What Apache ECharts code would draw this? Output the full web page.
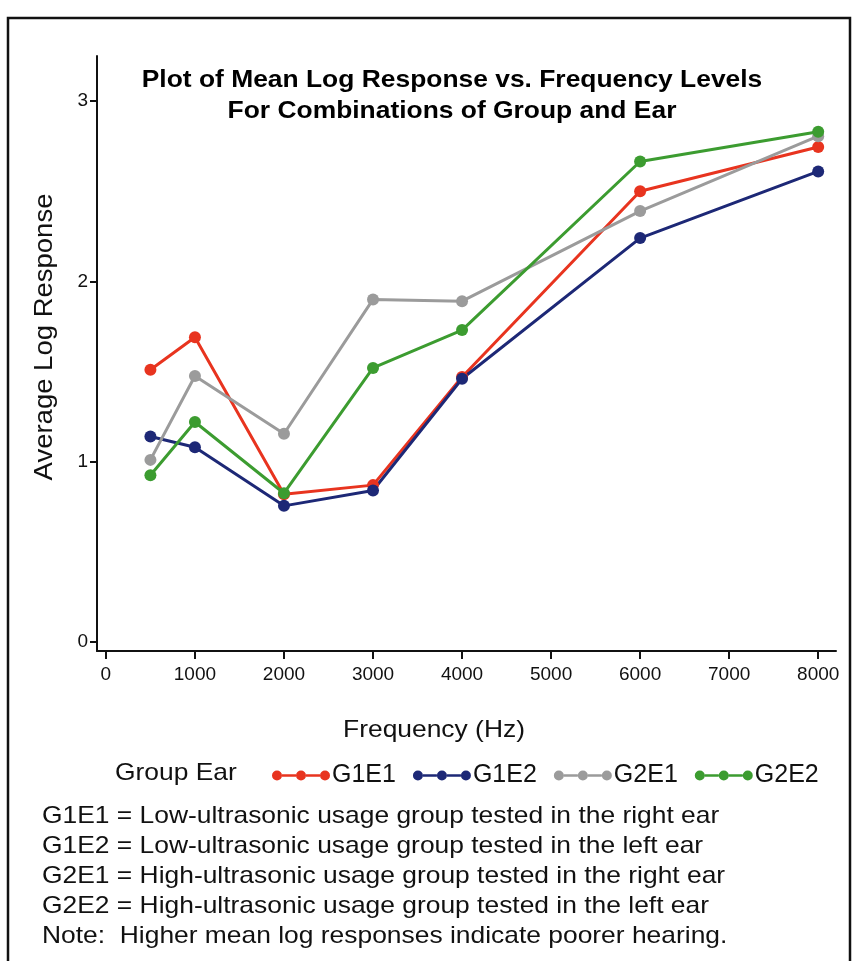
<!DOCTYPE html>
<html><head><meta charset="utf-8">
<script src="https://cdn.jsdelivr.net/npm/echarts@6/dist/echarts.min.js"></script>
<style>html,body{margin:0;padding:0;background:#fff}#c{width:855px;height:961px}</style>
</head><body><div id="c"></div>
<script>
const frequencies = [500, 1000, 2000, 3000, 4000, 6000, 8000];
const seriesNames = ['G1E1', 'G1E2', 'G2E1', 'G2E2'];
const g1e1 = [1.51, 1.69, 0.82, 0.87, 1.47, 2.50, 2.745];
const g1e2 = [1.14, 1.08, 0.755, 0.84, 1.46, 2.24, 2.61];
const g2e1 = [1.01, 1.475, 1.155, 1.90, 1.89, 2.39, 2.805];
const g2e2 = [0.925, 1.22, 0.825, 1.52, 1.73, 2.665, 2.83];
const xTicks = [0, 1000, 2000, 3000, 4000, 5000, 6000, 7000, 8000];
const yTicks = [0, 1, 2, 3];
const titleLines = ['Plot of Mean Log Response vs. Frequency Levels', 'For Combinations of Group and Ear'];
const xName = 'Frequency (Hz)';
const yName = 'Average Log Response';
const legendTitle = 'Group Ear';
const notes = [
  'G1E1 = Low-ultrasonic usage group tested in the right ear',
  'G1E2 = Low-ultrasonic usage group tested in the left ear',
  'G2E1 = High-ultrasonic usage group tested in the right ear',
  'G2E2 = High-ultrasonic usage group tested in the left ear',
  'Note:  Higher mean log responses indicate poorer hearing.'
];
const colors = ['#e8341f', '#1d2876', '#9b9b9b', '#3c9c30'];
const allData = [g1e1, g1e2, g2e1, g2e2];
const FONT = '"Liberation Sans", Arial, sans-serif';
const legendIcon = 'path://M0,5a5,5 0 1,0 10,0a5,5 0 1,0 -10,0Z M24,5a5,5 0 1,0 10,0a5,5 0 1,0 -10,0Z M48,5a5,5 0 1,0 10,0a5,5 0 1,0 -10,0Z M10,3.8h14v2.4h-14Z M34,3.8h14v2.4h-14Z';
const SX = 1.1;

const chart = echarts.init(document.getElementById('c'), null, {renderer: 'canvas'});
const graphics = [
  {type: 'rect', shape: {x: 8, y: 18, width: 842, height: 960}, style: {fill: 'none', stroke: '#111', lineWidth: 2.5}, silent: true},
  {type: 'text', x: 452, y: 80, scaleX: SX, style: {x: 0, y: 0, text: titleLines[0], font: 'bold 24px ' + FONT, fill: '#000', align: 'center', verticalAlign: 'middle'}},
  {type: 'text', x: 452, y: 111, scaleX: SX, style: {x: 0, y: 0, text: titleLines[1], font: 'bold 24px ' + FONT, fill: '#000', align: 'center', verticalAlign: 'middle'}},
  {type: 'text', x: 434, y: 730, scaleX: SX, style: {x: 0, y: 0, text: xName, font: '24px ' + FONT, fill: '#111', align: 'center', verticalAlign: 'middle'}},
  {type: 'text', x: 45, y: 337, rotation: Math.PI / 2, scaleX: SX, style: {x: 0, y: 0, text: yName, font: '25px ' + FONT, fill: '#111', align: 'center', verticalAlign: 'middle'}},
  {type: 'text', x: 115, y: 773, scaleX: SX, style: {x: 0, y: 0, text: legendTitle, font: '24px ' + FONT, fill: '#111', align: 'left', verticalAlign: 'middle'}}
].concat(notes.map((t, k) => ({type: 'text', x: 42, y: 816 + k * 30, scaleX: SX, style: {x: 0, y: 0, text: t, font: '24px ' + FONT, fill: '#111', align: 'left', verticalAlign: 'middle'}})));

const option = {
  backgroundColor: '#fff',
  animation: false,
  grid: {left: 97, right: 19, top: 56, bottom: 310, containLabel: false},
  xAxis: {
    type: 'value', min: -100, max: 8200,
    axisLine: {show: true, onZero: false, lineStyle: {color: '#111', width: 2}},
    axisTick: {show: true, customValues: xTicks, length: 8, lineStyle: {color: '#111', width: 2}},
    axisLabel: {customValues: xTicks, formatter: v => String(v), fontFamily: FONT, fontSize: 19, color: '#111', margin: 14},
    splitLine: {show: false}
  },
  yAxis: {
    type: 'value', min: -0.05, max: 3.25,
    axisLine: {show: true, onZero: false, lineStyle: {color: '#111', width: 2}},
    axisTick: {show: true, customValues: yTicks, length: 7, lineStyle: {color: '#111', width: 2}},
    axisLabel: {customValues: yTicks, fontFamily: FONT, fontSize: 19, color: '#111', margin: 9},
    splitLine: {show: false}
  },
  legend: {
    data: seriesNames.map((n, i) => ({name: n, icon: legendIcon, itemStyle: {color: colors[i]}})),
    left: 267, top: 758, itemWidth: 58, itemHeight: 10, itemGap: 17,
    textStyle: {fontFamily: FONT, fontSize: 25, color: '#111', padding: [0, 0, 0, -3]}
  },
  series: seriesNames.map((n, i) => ({
    name: n, type: 'line',
    data: frequencies.map((f, j) => [f, allData[i][j]]),
    symbol: 'circle', symbolSize: 12,
    lineStyle: {color: colors[i], width: 3},
    itemStyle: {color: colors[i]}
  })),
  graphic: graphics
};
chart.setOption(option);
</script></body></html>
